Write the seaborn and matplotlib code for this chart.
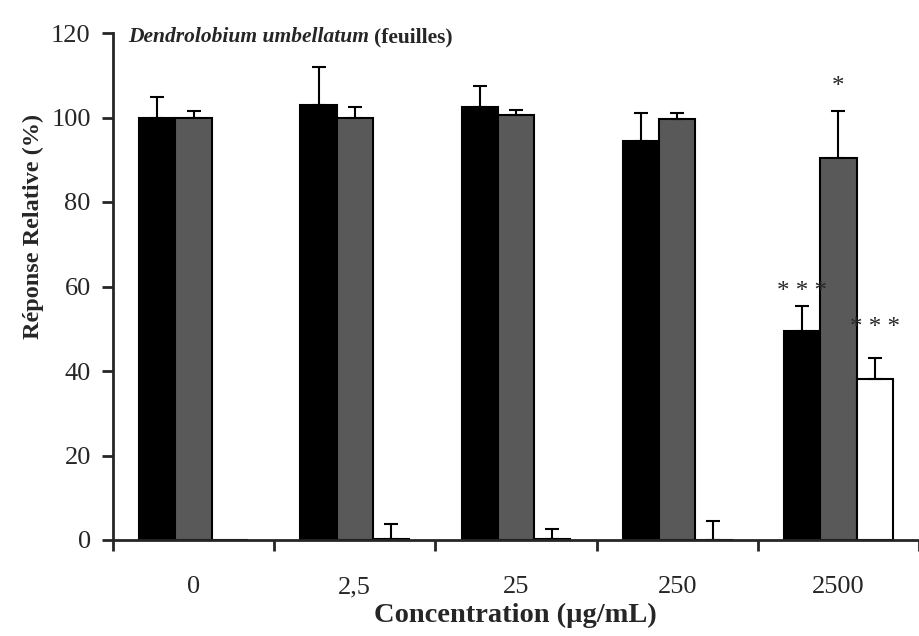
import pandas as pd
import seaborn as sns
import matplotlib.pyplot as plt

# ------------------------------------------------
# Data
# ------------------------------------------------
concentrations = ["0", "2,5", "25", "250", "2500"]
series = ["A", "B", "C"]
values_a = [100.0, 103.0, 102.5, 94.5, 49.5]
errors_a = [4.8, 9.0, 5.0, 6.6, 6.0]
values_b = [100.0, 100.0, 100.5, 99.7, 90.3]
errors_b = [1.6, 2.5, 1.2, 1.3, 11.3]
values_c = [0.0, 0.3, 0.2, -0.3, 38.2]
errors_c = [0.0, 3.5, 2.4, 4.4, 4.8]
# (group, series) -> label
stars = {(4, 0): "* * *", (4, 1): "*", (4, 2): "* * *"}
star_offset = {(4, 0): 0.7, (4, 1): 3.0, (4, 2): 4.5}

colors = ["#000000", "#595959", "#ffffff"]

# ------------------------------------------------
# Build table
# ------------------------------------------------
rows = []
for s, vals, errs in zip(series, [values_a, values_b, values_c],
                         [errors_a, errors_b, errors_c]):
    for c, v, e in zip(concentrations, vals, errs):
        rows.append({"Concentration": c, "Serie": s, "Valeur": v, "Err": e})
data = pd.DataFrame(rows)

# ------------------------------------------------
# Plot
# ------------------------------------------------
sns.set_style("ticks")
plt.rcParams["font.family"] = ["Liberation Serif", "DejaVu Serif"]

fig = plt.figure(figsize=(9.19, 6.36), dpi=100)
ax = fig.add_axes([113 / 919, 1 - 540 / 636, (919 - 113) / 919, (540 - 33) / 636])

sns.barplot(data=data, x="Concentration", y="Valeur", hue="Serie",
            order=concentrations, hue_order=series, palette=colors,
            edgecolor="black", linewidth=1.5, width=0.675, errorbar=None,
            legend=False, saturation=1, ax=ax)

# upper error bars + significance stars
for si, (cont, errs) in enumerate(zip(ax.containers, [errors_a, errors_b, errors_c])):
    for gi, (bar, e) in enumerate(zip(cont, errs)):
        xc = bar.get_x() + bar.get_width() / 2
        top = max(bar.get_y(), bar.get_y() + bar.get_height())
        if e > 0:
            ax.errorbar([xc], [top], yerr=[[0], [e]], fmt="none",
                        ecolor="black", elinewidth=1.5, capsize=5, capthick=1.5)
        if (gi, si) in stars:
            ax.text(xc, top + e + star_offset[(gi, si)], stars[(gi, si)],
                    ha="center", va="bottom", fontsize=18)

ax.set_xlim(-0.5, 4.5)
ax.set_ylim(0, 120)
ax.set_yticks(range(0, 121, 20))
ax.set_xticks(range(len(concentrations)))
ax.set_xticklabels(concentrations)
ax.set_xticks([i - 0.5 for i in range(len(concentrations) + 1)], minor=True)
ax.tick_params(axis="x", which="major", length=0, labelsize=19, pad=26)
ax.tick_params(axis="x", which="minor", length=8, width=2, direction="out")
ax.tick_params(axis="y", length=8, width=2, direction="out", labelsize=19, pad=8)

sns.despine(ax=ax, top=True, right=True)
for sp in ["left", "bottom"]:
    ax.spines[sp].set_linewidth(2)

ax.set_xlabel("Concentration (µg/mL)", fontsize=20.5, fontweight="bold")
ax.xaxis.set_label_coords((515 - 113) / 806, -(615 - 540) / 507)
ax.xaxis.label.set_va("center")
ax.set_ylabel("Réponse Relative (%)", fontsize=17.5, fontweight="bold")
ax.yaxis.set_label_coords(-(113 - 33) / 806, (540 - 226) / 507)
ax.yaxis.label.set_va("center")

# title: italic species name + bold suffix
fig.canvas.draw()
renderer = fig.canvas.get_renderer()
t1 = fig.text(128 / 919, 1 - 42 / 636, "Dendrolobium umbellatum", fontsize=15.5,
              fontweight="bold", fontstyle="italic", ha="left", va="baseline")
bb = t1.get_window_extent(renderer)
fig.text(bb.x1 / fig.bbox.width + 5 / 919, 1 - 42 / 636, "(feuilles)", fontsize=15.5,
         fontweight="bold", ha="left", va="baseline")

plt.savefig("out.png", dpi=100)
